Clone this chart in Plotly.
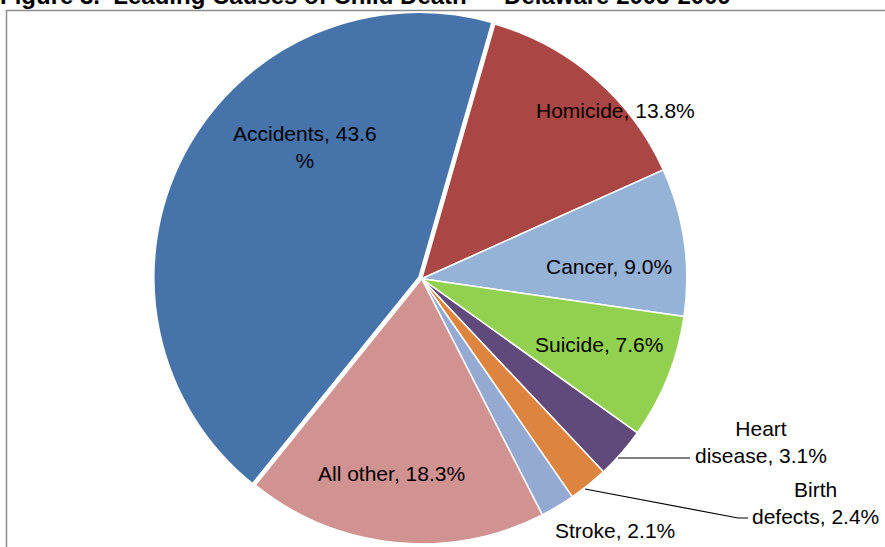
import plotly.graph_objects as go

W, H = 885, 547

causes = ["Homicide", "Cancer", "Suicide", "Heart disease", "Birth defects",
          "Stroke", "All other", "Accidents"]
shares = [13.8, 9.0, 7.6, 3.1, 2.4, 2.1, 18.3, 43.6]
colors = ["#AA4643", "#95B3D7", "#92D050", "#604A7B", "#DD843F",
          "#94AAD2", "#D19392", "#4673A9"]
pulls = [0, 0, 0, 0, 0, 0, 0, 0.012]

# label text (as drawn in the reference, including line breaks)
label_text = ["Homicide, 13.8%", "Cancer, 9.0%", "Suicide, 7.6%",
              "Heart<br>disease, 3.1%", "Birth<br>defects, 2.4%",
              "Stroke, 2.1%", "All other, 18.3%", "Accidents, 43.6<br>%"]
# label centres in pixels (x from left, y from top)
label_pos = [(615, 111), (609, 266), (599, 344), (761, 442), (815, 503),
             (615, 530), (391, 473), (305, 147)]

title = "Figure 3.  Leading Causes of Child Death \u2014 Delaware 2005-2009"

def px(x):
    return x / W

def py(y):
    return (H - y) / H

cx = 421.7
ytop = 547 - 536.4
fig = go.Figure(go.Pie(
    labels=causes, values=shares, sort=False, direction="clockwise",
    rotation=16, pull=pulls,
    marker=dict(colors=colors, line=dict(color="white", width=1.5)),
    textinfo="none", hoverinfo="label+percent", showlegend=False,
    domain=dict(x=[px(cx - 300), px(cx + 300)], y=[0, py(ytop)]),
))

annotations = []
for t, (x, y) in zip(label_text, label_pos):
    annotations.append(dict(
        text=t, x=px(x), y=py(y), xref="paper", yref="paper",
        showarrow=False, xanchor="center", yanchor="middle", align="center",
        font=dict(family="Liberation Sans, Arial, sans-serif", size=21, color="black"),
    ))
annotations.append(dict(
    text="<b>" + title + "</b>", x=px(-2), y=py(11), xref="paper", yref="paper",
    showarrow=False, xanchor="left", yanchor="bottom",
    font=dict(family="Liberation Sans, Arial, sans-serif", size=24, color="black"),
))

shapes = [
    # chart frame
    dict(type="rect", xref="paper", yref="paper", x0=px(6.5), x1=px(900),
         y0=py(560), y1=py(10.5), line=dict(color="#8C8C8C", width=1.5),
         fillcolor="rgba(0,0,0,0)", layer="below"),
    # leader line: heart disease
    dict(type="line", xref="paper", yref="paper", x0=px(618), y0=py(458),
         x1=px(690), y1=py(458), line=dict(color="black", width=1.2)),
    # leader line: birth defects
    dict(type="path", xref="paper", yref="paper",
         path=f"M {px(585)} {py(489)} L {px(738)} {py(518)} L {px(748)} {py(518)}",
         line=dict(color="black", width=1.2)),
]

fig.update_layout(
    width=W, height=H, margin=dict(l=0, r=0, t=0, b=0),
    paper_bgcolor="white", plot_bgcolor="white",
    annotations=annotations, shapes=shapes,
)

fig.write_html("out.html", config={"displayModeBar": False},
               post_script="document.body.style.margin='0';document.body.style.overflow='hidden';")
